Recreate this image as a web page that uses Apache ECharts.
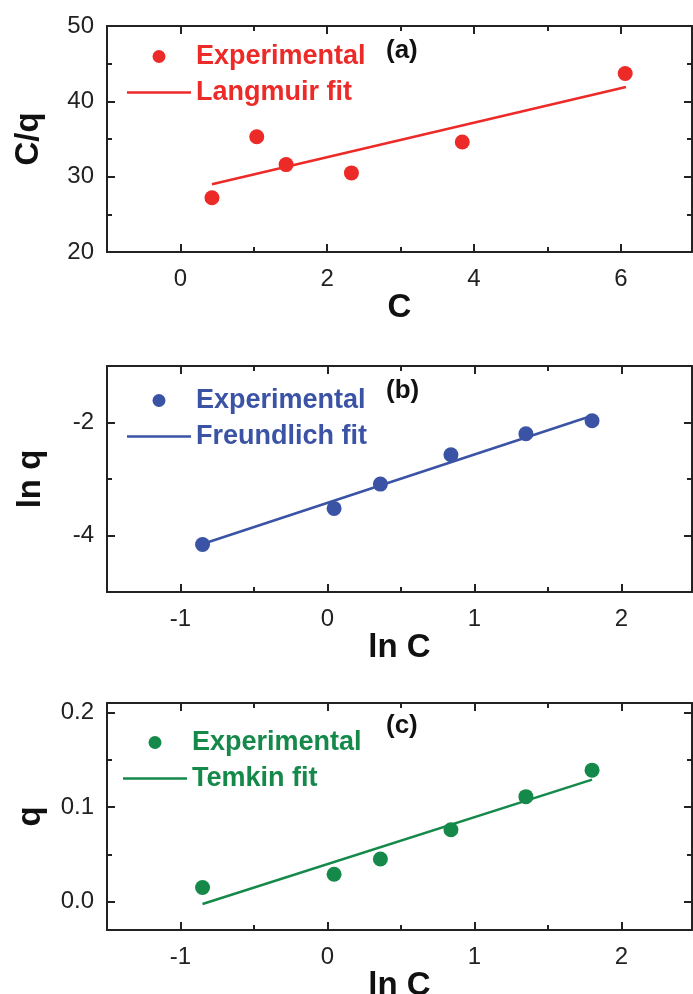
<!DOCTYPE html>
<html>
<head>
<meta charset="utf-8">
<title>Adsorption isotherms</title>
<script src="https://cdn.jsdelivr.net/npm/echarts@6/dist/echarts.min.js"></script>
<style>
  html, body { margin: 0; padding: 0; background: #fff; }
  #main { width: 693px; height: 994px; }
</style>
</head>
<body>
<div id="main"></div>
<script>
// (a) Langmuir
var langmuirC = [0.43, 1.04, 1.44, 2.33, 3.84, 6.06];
var langmuirCq = [27.2, 35.3, 31.6, 30.5, 34.6, 43.7];
var langmuirFitC = [0.43, 6.07];
var langmuirFitCq = [29.0, 41.9];

// (b) Freundlich, (c) Temkin share ln C
var lnC = [-0.85, 0.045, 0.36, 0.84, 1.35, 1.80];
var lnq = [-4.16, -3.52, -3.09, -2.57, -2.20, -1.97];
var freundlichFitX = [-0.85, 1.80];
var freundlichFitY = [-4.15, -1.88];

var temkinQ = [0.015, 0.029, 0.045, 0.076, 0.111, 0.139];
var temkinFitX = [-0.85, 1.80];
var temkinFitY = [-0.0025, 0.129];

// tick values
var ticksA_x = [0, 2, 4, 6], minorA_x = [1, 3, 5];
var ticksA_y = [20, 30, 40, 50], minorA_y = [25, 35, 45];
var ticksLnC = [-1, 0, 1, 2], minorLnC = [-0.5, 0.5, 1.5];
var ticksB_y = [-4, -2], minorB_y = [-3];
var ticksC_y = [0, 0.1, 0.2], minorC_y = [0.05, 0.15];

var RED = '#ec2a28', BLUE = '#3a53a4', GREEN = '#15894a';
var FONT = 'Liberation Sans, Arial, sans-serif';
// flat bar used as the legend icon of the fit lines
var LINE_ICON = 'path://M0,0L64,0L64,2.5L0,2.5Z';

function zip(xs, ys) {
    var res = [];
    for (var i = 0; i < xs.length; i++) res.push([xs[i], ys[i]]);
    return res;
}

var xAxes = [], yAxes = [];

// builds the frame for one side pair: major axis (line, long ticks, labels) + minor axis (short ticks)
function addAxes(list, dim, grid, min, max, major, minor, fmt, title, nameGap) {
    var sides = dim === 'x' ? ['bottom', 'top'] : ['left', 'right'];
    var first = list.length;
    sides.forEach(function (pos, k) {
        list.push({
            type: 'value', gridIndex: grid, position: pos, min: min, max: max,
            name: k === 0 ? title : '',
            nameLocation: 'middle', nameGap: nameGap,
            nameTextStyle: { fontSize: 33, fontWeight: 'bold', color: '#111', fontFamily: FONT },
            axisLine: { show: true, onZero: false, lineStyle: { color: '#222', width: 2 } },
            axisTick: { show: true, inside: true, length: 8, customValues: major,
                        lineStyle: { color: '#222', width: 2 } },
            axisLabel: { show: k === 0, customValues: major, margin: dim === 'x' ? 15 : 13,
                         fontSize: 24, color: '#222', fontFamily: FONT, formatter: fmt },
            splitLine: { show: false }
        });
        list.push({
            type: 'value', gridIndex: grid, position: pos, min: min, max: max,
            axisLine: { show: false, onZero: false },
            axisTick: { show: true, inside: true, length: 5, customValues: minor,
                        lineStyle: { color: '#222', width: 2 } },
            axisLabel: { show: false },
            splitLine: { show: false }
        });
    });
    return first;
}

function plain(v) { return String(v); }
function oneDec(v) { return v.toFixed(1); }

var xa = addAxes(xAxes, 'x', 0, -1, 6.97, ticksA_x, minorA_x, plain, 'C', 35);
var ya = addAxes(yAxes, 'y', 0, 20, 50, ticksA_y, minorA_y, plain, 'C/q', 62);
var xb = addAxes(xAxes, 'x', 1, -1.5, 2.48, ticksLnC, minorLnC, plain, 'ln C', 32);
var yb = addAxes(yAxes, 'y', 1, -5, -1, ticksB_y, minorB_y, plain, 'ln q', 60);
var xc = addAxes(xAxes, 'x', 2, -1.5, 2.48, ticksLnC, minorLnC, plain, 'ln C', 33);
var yc = addAxes(yAxes, 'y', 2, -0.03, 0.21, ticksC_y, minorC_y, oneDec, 'q', 60);

function legendFor(top, left, color, fitName) {
    return {
        orient: 'vertical', left: left, top: top, padding: 0,
        itemWidth: 64, itemHeight: 13, itemGap: 9, selectedMode: false,
        textStyle: { fontSize: 27, fontWeight: 'bold', color: color, fontFamily: FONT, lineHeight: 26 },
        data: [
            { name: 'Experimental', icon: 'circle', itemStyle: { color: color, opacity: 1 } },
            { name: fitName, icon: LINE_ICON, itemStyle: { color: color, opacity: 1 } }
        ]
    };
}

function panelLabel(text, top) {
    return { text: text, left: 386, top: top, padding: 0,
             textStyle: { fontSize: 26, fontWeight: 'bold', color: '#111', fontFamily: FONT } };
}

var myChart = echarts.init(document.getElementById('main'));

var option = {
    backgroundColor: '#fff',
    animation: false,
    title: [panelLabel('(a)', 38), panelLabel('(b)', 378), panelLabel('(c)', 713)],
    legend: [
        legendFor(43, 127, RED, 'Langmuir fit'),
        legendFor(387, 127, BLUE, 'Freundlich fit'),
        legendFor(729, 123, GREEN, 'Temkin fit')
    ],
    grid: [
        { left: 107, top: 26, width: 585, height: 226, outerBoundsMode: 'none' },
        { left: 107, top: 366, width: 585, height: 226, outerBoundsMode: 'none' },
        { left: 107, top: 703, width: 585, height: 227, outerBoundsMode: 'none' }
    ],
    xAxis: xAxes,
    yAxis: yAxes,
    series: [
        { name: 'Experimental', type: 'scatter', xAxisIndex: xa, yAxisIndex: ya,
          data: zip(langmuirC, langmuirCq), symbolSize: 15, itemStyle: { color: RED, opacity: 1 }, z: 3 },
        { name: 'Langmuir fit', type: 'line', xAxisIndex: xa, yAxisIndex: ya, symbol: 'none',
          data: zip(langmuirFitC, langmuirFitCq), lineStyle: { color: RED, width: 2.5 }, itemStyle: { color: RED } },

        { name: 'Experimental', type: 'scatter', xAxisIndex: xb, yAxisIndex: yb,
          data: zip(lnC, lnq), symbolSize: 15, itemStyle: { color: BLUE, opacity: 1 }, z: 3 },
        { name: 'Freundlich fit', type: 'line', xAxisIndex: xb, yAxisIndex: yb, symbol: 'none',
          data: zip(freundlichFitX, freundlichFitY), lineStyle: { color: BLUE, width: 2.5 }, itemStyle: { color: BLUE } },

        { name: 'Experimental', type: 'scatter', xAxisIndex: xc, yAxisIndex: yc,
          data: zip(lnC, temkinQ), symbolSize: 15, itemStyle: { color: GREEN, opacity: 1 }, z: 3 },
        { name: 'Temkin fit', type: 'line', xAxisIndex: xc, yAxisIndex: yc, symbol: 'none',
          data: zip(temkinFitX, temkinFitY), lineStyle: { color: GREEN, width: 2.5 }, itemStyle: { color: GREEN } }
    ]
};

myChart.setOption(option);
window.addEventListener('resize', function () {
    myChart.resize();
});
</script>
</body>
</html>
